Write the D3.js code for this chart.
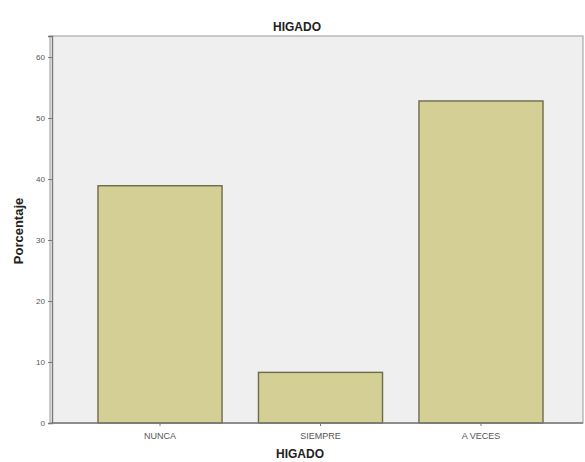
<!DOCTYPE html>
<html>
<head>
<meta charset="utf-8">
<script src="https://cdn.jsdelivr.net/npm/d3@7/dist/d3.min.js"></script>
<style>
  html, body { margin: 0; padding: 0; background: #ffffff; }
  svg { display: block; font-family: "Liberation Sans", Arial, sans-serif; }
</style>
</head>
<body>
<svg id="chart" width="585" height="462"></svg>
<script>
// Liver ("HIGADO") response frequencies, in percent
const categories = ["NUNCA", "SIEMPRE", "A VECES"];
const percentages = [38.9, 8.3, 52.8];
const yTicks = [0, 10, 20, 30, 40, 50, 60];

const svg = d3.select("#chart");

const frame = { left: 50, right: 583, top: 36, bottom: 423 };

const y = d3.scaleLinear().domain([0, 63.45]).range([frame.bottom, frame.top]);
const x = d3.scaleBand()
  .domain(categories)
  .range([50, 591])
  .paddingInner(0.227)
  .paddingOuter(0.299);

// plot background
svg.append("rect")
  .attr("x", frame.left).attr("y", frame.top)
  .attr("width", frame.right - frame.left)
  .attr("height", frame.bottom - frame.top)
  .attr("fill", "#efefef")
  .attr("stroke", "#a9a9a9")
  .attr("stroke-width", 1.2);

// bars
svg.append("g").selectAll("rect")
  .data(categories)
  .join("rect")
  .attr("x", d => x(d))
  .attr("y", (d, i) => y(percentages[i]))
  .attr("width", x.bandwidth())
  .attr("height", (d, i) => y(0) - y(percentages[i]))
  .attr("fill", "#d3cf95")
  .attr("stroke", "#6e6b4c")
  .attr("stroke-width", 1.4);

// y axis
const yAxis = svg.append("g")
  .attr("transform", `translate(${frame.left + 2},0)`)
  .call(d3.axisLeft(y).tickValues(yTicks).tickSize(4).tickPadding(3));
yAxis.select(".domain").attr("stroke", "#7a7a7a").attr("stroke-width", 1.4);
yAxis.selectAll(".tick line").attr("stroke", "#7a7a7a");
yAxis.selectAll("text").attr("font-size", 8).attr("fill", "#555");

// x axis
const xAxis = svg.append("g")
  .attr("transform", `translate(0,${frame.bottom})`)
  .call(d3.axisBottom(x).tickSize(3).tickPadding(7).tickSizeOuter(0));
xAxis.select(".domain").attr("stroke", "#7a7a7a").attr("stroke-width", 1.4)
  .attr("d", `M${frame.left + 2},0H${frame.right}`);
xAxis.selectAll(".tick line").attr("stroke", "#7a7a7a");
xAxis.selectAll("text").attr("font-size", 9).attr("fill", "#555");

// titles
svg.append("text")
  .attr("x", 297).attr("y", 31)
  .attr("text-anchor", "middle")
  .attr("font-size", 12).attr("font-weight", "bold").attr("fill", "#222")
  .text("HIGADO");

svg.append("text")
  .attr("x", 300).attr("y", 458)
  .attr("text-anchor", "middle")
  .attr("font-size", 12).attr("font-weight", "bold").attr("fill", "#222")
  .text("HIGADO");

svg.append("text")
  .attr("transform", "translate(23,231) rotate(-90)")
  .attr("text-anchor", "middle")
  .attr("font-size", 13).attr("font-weight", "bold").attr("fill", "#222")
  .text("Porcentaje");
</script>
</body>
</html>
